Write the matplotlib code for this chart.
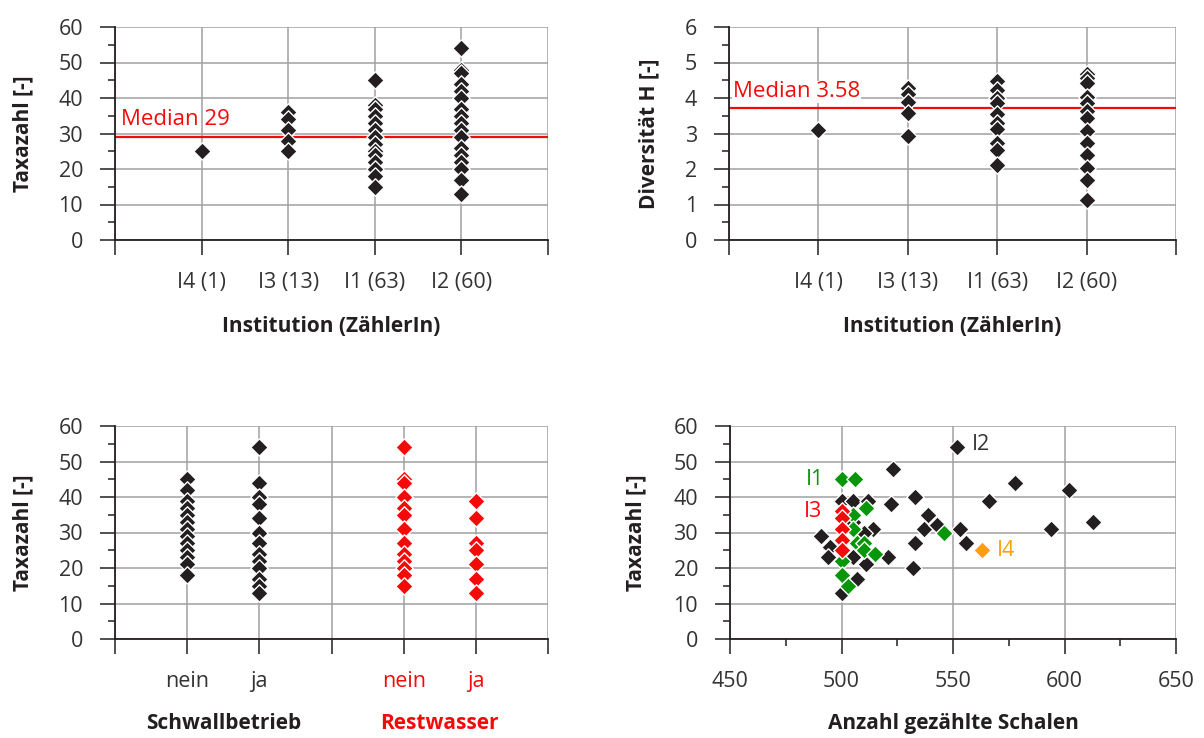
import numpy as np
import matplotlib
matplotlib.use("Agg")
import matplotlib.pyplot as plt
from matplotlib.ticker import MultipleLocator, FixedLocator
import matplotlib.transforms as mtransforms

plt.rcParams['font.family'] = ['Open Sans', 'DejaVu Sans']

# ------------------------------------------------------------
# Daten
# ------------------------------------------------------------
inst_labels = ["I4 (1)", "I3 (13)", "I1 (63)", "I2 (60)"]

taxa_i4 = [25]
taxa_i3 = [36, 34, 31, 28, 25]
taxa_i1 = [45, 38, 37, 35, 33, 31, 29, 27, 25, 24, 22, 20, 18, 15]
taxa_i2 = [54, 48, 47, 44, 42, 40, 37, 35, 33, 31, 29, 26, 24, 22, 20, 17, 13]
taxa_median_line = 28.9
taxa_median_text = "Median 29"

div_i4 = [3.10]
div_i3 = [4.27, 4.10, 3.90, 3.59, 2.94]
div_i1 = [4.49, 4.22, 4.01, 3.85, 3.54, 3.30, 3.12, 2.72, 2.54, 2.11]
div_i2 = [4.69, 4.55, 4.41, 4.04, 3.86, 3.64, 3.45, 3.07, 2.72, 2.39, 2.02, 1.69, 1.13]
div_median_line = 3.71
div_median_text = "Median 3.58"

group_labels = ["nein", "ja", "nein", "ja"]
group_pos = [1, 2, 4, 5]
schwall_nein = [45, 42, 39, 37, 35, 33, 31, 29, 27, 25, 23, 21, 18]
schwall_ja = [54, 44, 40, 38, 34, 30, 27, 24, 22, 20, 17, 15, 13]
rest_nein = [54, 45, 44, 40, 37, 35, 31, 27, 24, 22, 20, 18, 15]
rest_ja = [39, 34, 27, 25, 21, 17, 13]

schalen_i2 = [552, 523, 578, 602, 533, 566, 522, 500, 505, 512, 539, 613, 537,
              543, 553, 594, 514, 510, 491, 533, 556, 495, 494, 521, 532, 511,
              507, 500, 505, 505]
taxa_s_i2 = [54, 48, 44, 42, 40, 39, 38, 39, 39, 39, 35, 33, 31,
             32, 31, 31, 31, 30, 29, 27, 27, 26, 23, 23, 20, 21,
             17, 13, 23, 33]
schalen_i1 = [500, 506, 511, 505, 505, 546, 507, 510, 510, 515, 500, 500, 503]
taxa_s_i1 = [45, 45, 37, 35, 31, 30, 27, 27, 25, 24, 22, 18, 15]
schalen_i3 = [500, 500, 500, 500, 500]
taxa_s_i3 = [36, 34, 31, 28, 25]
schalen_i4 = [563]
taxa_s_i4 = [25]

# ------------------------------------------------------------
# Stil
# ------------------------------------------------------------
BLACK = "#231f20"
RED = "#f50a0a"
GREEN = "#0a960a"
ORANGE = "#ff9d0f"
TXT = "#333333"
GRID = "#a0a0a0"
MS = 78
FS_TICK = 15.5
FS_LAB = 15

W, H = 1204, 738


def make_ax(fig, left, top, right, bottom):
    return fig.add_axes([left / W, 1 - bottom / H, (right - left) / W, (bottom - top) / H])


def style(ax, ylim, ystep):
    ax.set_ylim(*ylim)
    ax.yaxis.set_major_locator(MultipleLocator(ystep))
    ax.yaxis.set_minor_locator(MultipleLocator(ystep / 2))
    for s in ["top", "right"]:
        ax.spines[s].set_visible(False)
    for s in ["left", "bottom"]:
        ax.spines[s].set_color(BLACK)
        ax.spines[s].set_linewidth(1.3)
        ax.spines[s].set_zorder(4)
    ax.grid(True, which="major", color=GRID, linewidth=1.1, zorder=0)
    ax.set_axisbelow(True)
    ax.tick_params(axis="both", which="major", direction="out", length=11,
                   width=1.1, color=BLACK, labelsize=FS_TICK, labelcolor=TXT)
    ax.tick_params(axis="y", which="major", pad=12)
    ax.tick_params(axis="x", which="major", pad=12)
    ax.tick_params(axis="both", which="minor", direction="out", length=5,
                   width=1.1, color=BLACK)
    ax.tick_params(axis="x", which="minor", bottom=False)


def labels(ax, xl, yl, yx, xy=-0.405):
    if xl:
        ax.set_xlabel(xl, fontsize=FS_LAB, fontweight="bold", color=BLACK, va="center")
        ax.xaxis.set_label_coords(0.5, xy)
    ax.set_ylabel(yl, fontsize=FS_LAB, fontweight="bold", color=BLACK, va="center")
    ax.yaxis.set_label_coords(yx, 0.5)


def pts(ax, xs, ys, color):
    ax.scatter(xs, ys, marker="D", s=MS, c=color, edgecolors="white",
               linewidths=1.0, zorder=3, clip_on=False)


fig = plt.figure(figsize=(W / 100, H / 100), dpi=100)

# --- oben links: Taxazahl je Institution ---
ax1 = make_ax(fig, 115, 27, 548, 240)
style(ax1, (0, 60), 10)
ax1.set_xlim(0, 5)
ax1.xaxis.set_major_locator(FixedLocator([0, 1, 2, 3, 4, 5]))
for i, vals in enumerate([taxa_i4, taxa_i3, taxa_i1, taxa_i2]):
    pts(ax1, [i + 1] * len(vals), vals, BLACK)
ax1.axhline(taxa_median_line, color=RED, linewidth=1.6, zorder=2)
ax1.text(0.07, 32.3, taxa_median_text, color=RED, fontsize=16, va="baseline", ha="left")
ax1.set_xticklabels([""] + inst_labels + [""])
labels(ax1, "Institution (ZählerIn)", "Taxazahl [-]", -0.212)

# --- oben rechts: Diversität je Institution ---
ax2 = make_ax(fig, 729, 27, 1176, 240)
style(ax2, (0, 6), 1)
ax2.set_xlim(0, 5)
ax2.xaxis.set_major_locator(FixedLocator([0, 1, 2, 3, 4, 5]))
for i, vals in enumerate([div_i4, div_i3, div_i1, div_i2]):
    pts(ax2, [i + 1] * len(vals), vals, BLACK)
ax2.axhline(div_median_line, color=RED, linewidth=1.6, zorder=2)
ax2.text(0.045, 4.02, div_median_text, color=RED, fontsize=16, va="baseline", ha="left",
         bbox=dict(facecolor="white", edgecolor="none", pad=0.5), zorder=2.5)
ax2.set_xticklabels([""] + inst_labels + [""])
labels(ax2, "Institution (ZählerIn)", "Diversität H [-]", -0.18)

# --- unten links: Schwallbetrieb / Restwasser ---
ax3 = make_ax(fig, 115, 426, 548, 639)
style(ax3, (0, 60), 10)
ax3.set_xlim(0, 6)
ax3.xaxis.set_major_locator(FixedLocator([0, 1, 2, 3, 4, 5, 6]))
pts(ax3, [group_pos[0]] * len(schwall_nein), schwall_nein, BLACK)
pts(ax3, [group_pos[1]] * len(schwall_ja), schwall_ja, BLACK)
pts(ax3, [group_pos[2]] * len(rest_nein), rest_nein, RED)
pts(ax3, [group_pos[3]] * len(rest_ja), rest_ja, RED)
ax3.set_xticklabels(["", group_labels[0], group_labels[1], "", group_labels[2], group_labels[3], ""])
tl = ax3.get_xticklabels()
tl[4].set_color(RED)
tl[5].set_color(RED)
labels(ax3, None, "Taxazahl [-]", -0.212)
trans = mtransforms.blended_transform_factory(ax3.transData, ax3.transAxes)
ax3.text(1.5, -0.395, "Schwallbetrieb", transform=trans, ha="center", va="center",
         fontsize=FS_LAB, fontweight="bold", color=BLACK)
ax3.text(4.5, -0.395, "Restwasser", transform=trans, ha="center", va="center",
         fontsize=FS_LAB, fontweight="bold", color=RED)

# --- unten rechts: Taxazahl vs. gezählte Schalen ---
ax4 = make_ax(fig, 730, 426, 1176, 639)
style(ax4, (0, 60), 10)
ax4.set_xlim(450, 650)
ax4.xaxis.set_major_locator(MultipleLocator(50))
ax4.xaxis.set_minor_locator(MultipleLocator(25))
ax4.tick_params(axis="x", which="minor", bottom=True)
pts(ax4, schalen_i2, taxa_s_i2, BLACK)
pts(ax4, schalen_i1, taxa_s_i1, GREEN)
pts(ax4, schalen_i3, taxa_s_i3, RED)
pts(ax4, schalen_i4, taxa_s_i4, ORANGE)
ax4.text(558.5, 54.9, "I2", color=TXT, fontsize=FS_TICK, va="center", ha="left")
ax4.text(484, 45, "I1", color=GREEN, fontsize=FS_TICK, va="center", ha="left")
ax4.text(483, 36, "I3", color=RED, fontsize=FS_TICK, va="center", ha="left")
ax4.text(569.5, 25, "I4", color=ORANGE, fontsize=FS_TICK, va="center", ha="left")
labels(ax4, "Anzahl gezählte Schalen", "Taxazahl [-]", -0.21, xy=-0.395)

fig.savefig("out.png", dpi=100)
plt.close("all")
